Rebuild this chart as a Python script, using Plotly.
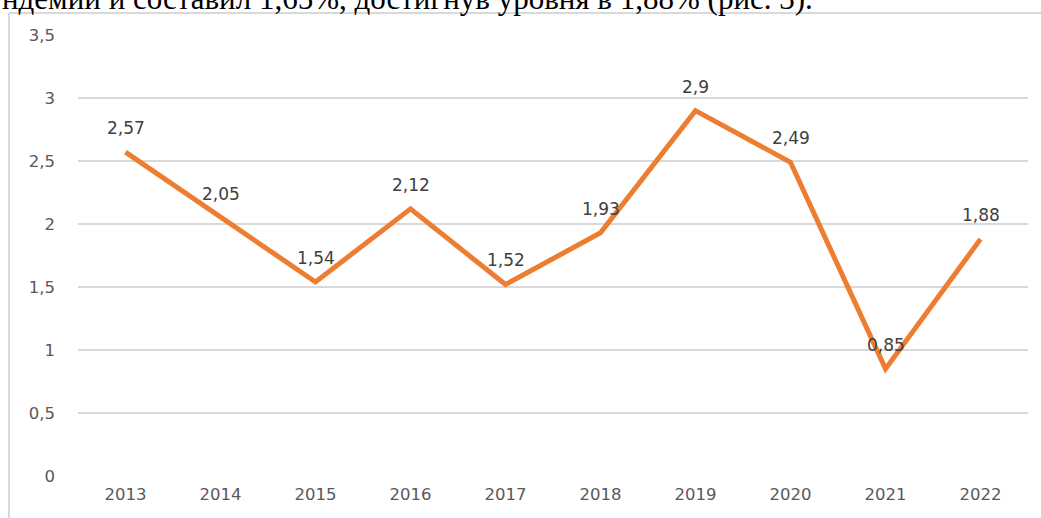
import plotly.graph_objects as go

years = ["2013", "2014", "2015", "2016", "2017", "2018", "2019", "2020", "2021", "2022"]
values = [2.57, 2.05, 1.54, 2.12, 1.52, 1.93, 2.9, 2.49, 0.85, 1.88]
y_ticks = [0, 0.5, 1, 1.5, 2, 2.5, 3, 3.5]
y_tick_text = ["0", "0,5", "1", "1,5", "2", "2,5", "3", "3,5"]
caption = "ндемии и составил 1,65%, достигнув уровня в 1,88% (рис. 3)."

W, H = 1041, 518
ml, mr, mt, mb = 78, 13, 35, 42
pw, ph = W - ml - mr, H - mt - mb

def px_x(p):
    return (p - ml) / pw

def px_y(p):
    return (H - mb - p) / ph

FONT = "DejaVu Sans, Open Sans, sans-serif"

fig = go.Figure()
fig.add_trace(go.Scatter(
    x=list(range(len(years))), y=values, mode="lines",
    line=dict(color="#ED7D31", width=5),
    hoverinfo="skip", showlegend=False,
))

for i, v in enumerate(values):
    fig.add_annotation(
        x=i, y=v, xref="x", yref="y",
        text=f"{v:g}".replace(".", ","),
        showarrow=False, yshift=24,
        font=dict(family=FONT, size=17, color="#404040"),
    )

# cut-off caption line at top of the image
fig.add_annotation(
    xref="paper", yref="paper", x=px_x(0), y=px_y(18),
    xanchor="left", yanchor="bottom", text=caption, showarrow=False,
    font=dict(family="Liberation Serif, Times New Roman, serif", size=31, color="#000000"),
)

# chart frame
fig.add_shape(type="line", xref="paper", yref="paper",
              x0=px_x(9), x1=px_x(1060), y0=px_y(13), y1=px_y(13),
              line=dict(color="#D9D9D9", width=2))
fig.add_shape(type="line", xref="paper", yref="paper",
              x0=px_x(9), x1=px_x(9), y0=px_y(13), y1=px_y(540),
              line=dict(color="#D9D9D9", width=2))

fig.update_layout(
    width=W, height=H,
    margin=dict(l=ml, r=mr, t=mt, b=mb),
    paper_bgcolor="white", plot_bgcolor="white",
    separators=", ",
    xaxis=dict(
        range=[-0.5, 9.5], tickvals=list(range(len(years))), ticktext=years,
        showgrid=False, zeroline=False,
        showline=False, ticks="", ticklabelstandoff=6,
        tickfont=dict(family=FONT, size=16.5, color="#595959"),
    ),
    yaxis=dict(
        range=[0, 3.5], tickvals=y_ticks, ticktext=y_tick_text,
        showgrid=True, gridcolor="#D9D9D9", gridwidth=1.5, zeroline=False,
        showline=False, ticks="", ticklabelstandoff=22,
        tickfont=dict(family=FONT, size=16.5, color="#595959"),
    ),
)

fig.write_html("out.html")
